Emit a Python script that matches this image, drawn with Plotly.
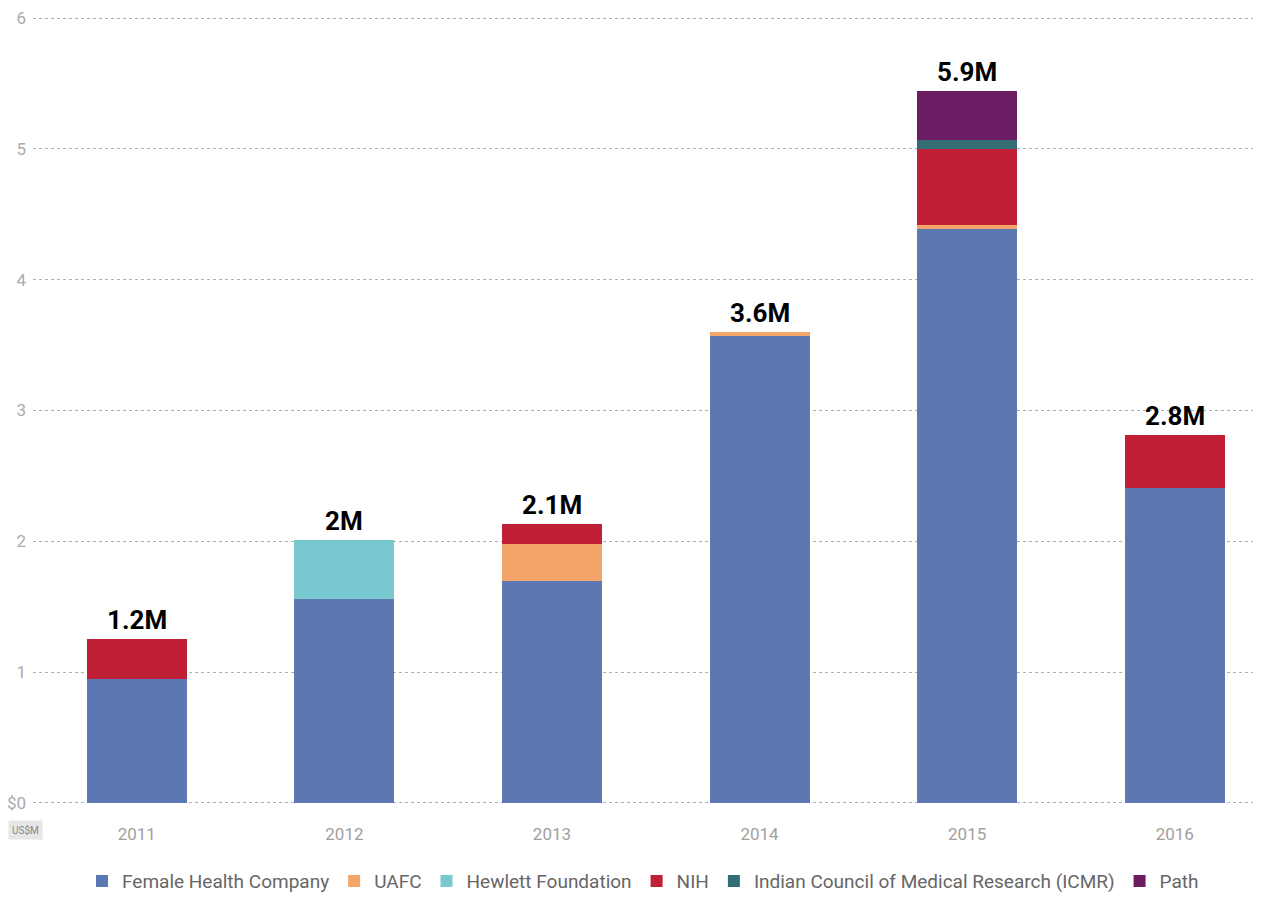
import plotly.graph_objects as go

years = ["2011", "2012", "2013", "2014", "2015", "2016"]
female_health = [0.95, 1.56, 1.70, 3.57, 4.39, 2.41]
uafc = [0, 0, 0.28, 0.03, 0.03, 0]
hewlett = [0, 0.45, 0, 0, 0, 0]
nih = [0.30, 0, 0.15, 0, 0.58, 0.40]
icmr = [0, 0, 0, 0, 0.07, 0]
path = [0, 0, 0, 0, 0.37, 0]
total_labels = ["1.2M", "2M", "2.1M", "3.6M", "5.9M", "2.8M"]
y_ticks = [0, 1, 2, 3, 4, 5, 6]
y_ticktext = ["$0", "1", "2", "3", "4", "5", "6"]

series = [
    ("Female Health Company", female_health, "#5b78b2"),
    ("UAFC", uafc, "#f4a66a"),
    ("Hewlett Foundation", hewlett, "#79c8cf"),
    ("NIH", nih, "#c02035"),
    ("Indian Council of Medical Research (ICMR)", icmr, "#336e77"),
    ("Path", path, "#6b1c63"),
]

FONT = "Roboto, Liberation Sans Narrow, sans-serif"

fig = go.Figure()
for name, vals, color in series:
    fig.add_trace(go.Bar(
        x=years, y=vals, name=name, marker=dict(color=color, line=dict(width=0)),
        hoverinfo="x+y+name",
    ))

totals = [sum(v) for v in zip(female_health, uafc, hewlett, nih, icmr, path)]
for i, (tot, lab) in enumerate(zip(totals, total_labels)):
    fig.add_annotation(x=i, y=tot, text="<b>" + lab + "</b>", showarrow=False,
                       yanchor="bottom", yshift=2,
                       font=dict(family=FONT, size=26, color="#000000"))

fig.add_annotation(xref="paper", yref="paper", x=0, y=-0.018, xanchor="left", yanchor="top",
                   xshift=-25, text="US$M", showarrow=False, bgcolor="#e6e6e6",
                   font=dict(family=FONT, size=10, color="#888888"), borderpad=3)

fig.update_layout(
    barmode="stack",
    bargap=0.518,
    width=1245, height=885,
    paper_bgcolor="white", plot_bgcolor="white",
    margin=dict(l=25, r=0, t=7, b=87, autoexpand=False),
    font=dict(family=FONT, color="#999999"),
    xaxis=dict(type="category", range=[-0.5, 5.377], showgrid=False, showline=False,
               ticks="", ticklabelstandoff=16, automargin=False,
               tickfont=dict(size=17, color="#a0a0a0", family=FONT)),
    yaxis=dict(range=[-0.023, 6.023], tickvals=y_ticks, ticktext=y_ticktext, showgrid=True,
               gridcolor="#b0b0b0", griddash="dot", gridwidth=1, zeroline=False,
               showline=False, ticks="", ticklabelstandoff=6, automargin=False,
               ticklabeloverflow="allow",
               tickfont=dict(size=17, color="#aaaaaa", family=FONT)),
    legend=dict(orientation="h", x=0.5, xanchor="center", y=-0.095, yanchor="middle",
                font=dict(size=19, color="#666666", family=FONT), traceorder="normal",
                itemwidth=30, tracegroupgap=0),
    showlegend=True,
)

fig.write_html("out.html")
